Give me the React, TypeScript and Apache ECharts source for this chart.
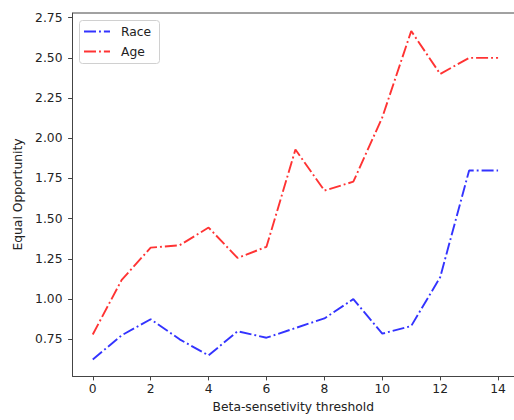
import React, { useEffect, useRef } from "react";
import * as echarts from "echarts";

const thresholds = [0, 1, 2, 3, 4, 5, 6, 7, 8, 9, 10, 11, 12, 13, 14];
const raceValues = [0.625, 0.775, 0.875, 0.75, 0.65, 0.8, 0.76, 0.82, 0.88, 1.0, 0.785, 0.833, 1.136, 1.8, 1.8];
const ageValues = [0.78, 1.12, 1.32, 1.335, 1.445, 1.256, 1.325, 1.93, 1.675, 1.73, 2.13, 2.667, 2.4, 2.5, 2.5];
const yTicks = [0.75, 1.0, 1.25, 1.5, 1.75, 2.0, 2.25, 2.5, 2.75];
const xTicks = [0, 2, 4, 6, 8, 10, 12, 14];
const seriesNames = ["Race", "Age"];
const seriesColors = ["rgba(0,0,255,0.8)", "rgba(255,0,0,0.8)"];

const FONT = "DejaVu Sans";
const FS = 12.3;
const DASH = [12, 3, 1.9, 3];

export default function App() {
  const ref = useRef<HTMLDivElement>(null);
  useEffect(() => {
    document.body.style.margin = "0";
    const chart = echarts.init(ref.current!, null, { renderer: "svg" });
    const legendItems: any[] = [
      {
        type: "rect",
        shape: { x: 79.5, y: 20.5, width: 80, height: 43, r: 3 },
        style: { fill: "rgba(255,255,255,0.8)", stroke: "#d0d0d0", lineWidth: 1 },
        silent: true,
        z: 100,
      },
    ];
    seriesNames.forEach((n, i) => {
      const y = 31.5 + i * 20;
      legendItems.push({
        type: "line",
        shape: { x1: 84, y1: y, x2: 110, y2: y },
        style: { stroke: seriesColors[i], lineWidth: 1.9, lineDash: DASH },
        silent: true,
        z: 101,
      });
      legendItems.push({
        type: "text",
        x: 121,
        y: y,
        style: {
          text: n,
          fontFamily: FONT,
          fontSize: FS,
          fill: "#222",
          verticalAlign: "middle",
          align: "left",
        },
        silent: true,
        z: 101,
      });
    });
    chart.setOption({
      animation: false,
      backgroundColor: "#ffffff",
      textStyle: { fontFamily: FONT },
      grid: { left: 72.5, right: 0, top: 13, bottom: 44, containLabel: false },
      xAxis: {
        type: "value",
        min: -0.7,
        max: 14.55,
        name: "Beta-sensetivity threshold",
        nameLocation: "middle",
        nameGap: 25,
        nameTextStyle: { fontFamily: FONT, fontSize: FS, color: "#222" },
        axisLine: { show: true, onZero: false, lineStyle: { color: "#444", width: 1 } },
        axisTick: { show: true, length: 4.4, lineStyle: { color: "#444" }, customValues: xTicks },
        axisLabel: { fontFamily: FONT, fontSize: FS, color: "#222", margin: 7, customValues: xTicks },
        splitLine: { show: false },
      },
      yAxis: {
        type: "value",
        min: 0.522,
        max: 2.779,
        name: "Equal Opportunity",
        nameLocation: "middle",
        nameGap: 47,
        nameTextStyle: { fontFamily: FONT, fontSize: FS, color: "#222" },
        axisLine: { show: true, onZero: false, lineStyle: { color: "#444", width: 1 } },
        axisTick: { show: true, length: 4.4, lineStyle: { color: "#444" }, customValues: yTicks },
        axisLabel: {
          fontFamily: FONT,
          fontSize: FS,
          color: "#222",
          margin: 10,
          customValues: yTicks,
          formatter: (v: number) => v.toFixed(2),
        },
        splitLine: { show: false },
      },
      graphic: [
        {
          type: "line",
          shape: { x1: 72.5, y1: 13, x2: 514, y2: 13 },
          style: { stroke: "#444", lineWidth: 1 },
          silent: true,
        },
        ...legendItems,
      ],
      series: seriesNames.map((n, i) => ({
        name: n,
        type: "line",
        data: thresholds.map((t, j) => [t, (i === 0 ? raceValues : ageValues)[j]]),
        symbol: "none",
        itemStyle: { color: seriesColors[i] },
        lineStyle: { color: seriesColors[i], width: 1.9, type: DASH },
      })),
    });
    return () => chart.dispose();
  }, []);
  return <div ref={ref} style={{ width: 514, height: 420 }} />;
}
